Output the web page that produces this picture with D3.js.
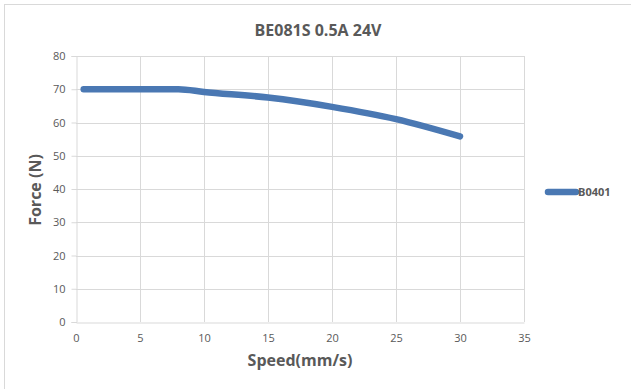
<!DOCTYPE html>
<html>
<head>
<meta charset="utf-8">
<script src="https://cdn.jsdelivr.net/npm/d3@7"></script>
<style>
  html, body { margin: 0; padding: 0; background: #fff; }
  svg { display: block; }
  text { font-family: "Open Sans", "Noto Sans", sans-serif; fill: #595959; }
</style>
</head>
<body>
<svg id="chart" width="631" height="389"></svg>
<script>
// Force vs speed for the BE081S drive at 0.5 A, 24 V
const speeds = [0.6, 8, 10, 15, 20, 25, 30];
const forces = [70, 70, 69.2, 67.5, 64.7, 61, 55.8];
const seriesName = "B0401";
const xTicks = [0, 5, 10, 15, 20, 25, 30, 35];
const yTicks = [0, 10, 20, 30, 40, 50, 60, 70, 80];

const svg = d3.select("#chart");
const W = 631, H = 389;
const plot = { left: 76, right: 524, top: 56, bottom: 322 };
const lineColor = "#4a78b3";
const gridColor = "#d9d9d9";

// outer chart frame
svg.append("rect")
  .attr("x", 4.5).attr("y", 4.5)
  .attr("width", W + 10).attr("height", H + 10)
  .attr("fill", "none").attr("stroke", "#d9d9d9");

const x = d3.scaleLinear().domain([0, 35]).range([plot.left, plot.right]);
const y = d3.scaleLinear().domain([0, 80]).range([plot.bottom, plot.top]);

// gridlines
const grid = svg.append("g");
grid.selectAll("line.v").data(xTicks.slice(1)).join("line")
  .attr("x1", d => Math.round(x(d)) + 0.5).attr("x2", d => Math.round(x(d)) + 0.5)
  .attr("y1", plot.top).attr("y2", plot.bottom)
  .attr("stroke", gridColor);
grid.selectAll("line.h").data(yTicks.slice(1)).join("line")
  .attr("x1", plot.left).attr("x2", plot.right)
  .attr("y1", d => Math.round(y(d)) + 0.5).attr("y2", d => Math.round(y(d)) + 0.5)
  .attr("stroke", gridColor);

// axes
const xAxis = svg.append("g")
  .attr("transform", `translate(0,${Math.round(plot.bottom) + 0.5})`)
  .call(d3.axisBottom(x).tickValues(xTicks).tickSize(0).tickPadding(12));
const yAxis = svg.append("g")
  .attr("transform", `translate(${Math.round(plot.left) + 0.5},0)`)
  .call(d3.axisLeft(y).tickValues(yTicks).tickSize(5).tickPadding(6));
[xAxis, yAxis].forEach(a => {
  a.select(".domain").attr("stroke", gridColor);
  a.selectAll(".tick line").attr("stroke", gridColor);
  a.selectAll(".tick text")
    .attr("fill", "#595959")
    .style("font-family", '"Open Sans", sans-serif')
    .style("font-size", "11px");
});
yAxis.selectAll(".tick line").attr("x1", 0).attr("x2", -5);

// data line
const pts = speeds.map((s, i) => [s, forces[i]]);
svg.append("path")
  .datum(pts)
  .attr("fill", "none")
  .attr("stroke", lineColor)
  .attr("stroke-width", 6.5)
  .attr("stroke-linecap", "round")
  .attr("stroke-linejoin", "round")
  .attr("d", d3.line().x(d => x(d[0])).y(d => y(d[1])).curve(d3.curveMonotoneX));

// title
svg.append("text")
  .attr("x", 318).attr("y", 36)
  .attr("text-anchor", "middle")
  .style("font-size", "16px").style("font-weight", "bold")
  .text("BE081S 0.5A 24V");

// axis titles
svg.append("text")
  .attr("x", 300).attr("y", 366)
  .attr("text-anchor", "middle")
  .style("font-size", "16px").style("font-weight", "bold")
  .text("Speed(mm/s)");
svg.append("text")
  .attr("transform", "translate(41,190) rotate(-90)")
  .attr("text-anchor", "middle")
  .style("font-size", "16px").style("font-weight", "bold")
  .text("Force (N)");

// legend
const lg = svg.append("g").attr("transform", "translate(548,192)");
lg.append("line")
  .attr("x1", 0).attr("x2", 28).attr("y1", 0).attr("y2", 0)
  .attr("stroke", lineColor).attr("stroke-width", 6.5).attr("stroke-linecap", "round");
lg.append("text")
  .attr("x", 30).attr("y", 4)
  .style("font-size", "11px").style("font-weight", "bold")
  .text(seriesName);
</script>
</body>
</html>
